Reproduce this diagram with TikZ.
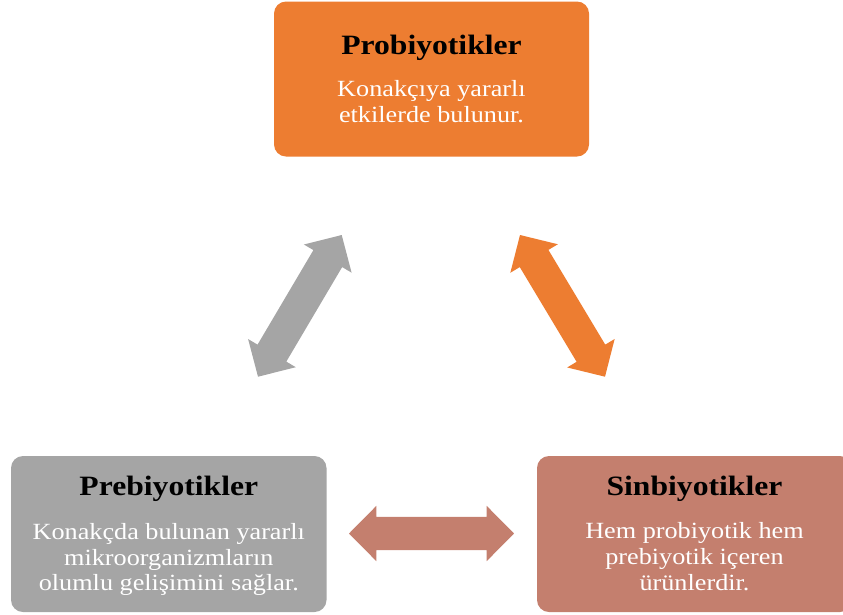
\documentclass[tikz,border=0pt]{standalone}
\usepackage{fontspec}
\setmainfont{Liberation Serif}[FakeStretch=1.13]
\usetikzlibrary{calc}
\definecolor{orng}{HTML}{ED7D31}
\definecolor{gry}{HTML}{A5A5A5}
\definecolor{salm}{HTML}{C47F6E}
\tikzset{
  box/.style={fill=#1, rounded corners=12pt, draw=none},
  ttl/.style={anchor=base, text=black, inner sep=0pt, font=\fontsize{28}{30}\selectfont\bfseries},
  bdy/.style={anchor=base, text=white, inner sep=0pt, font=\fontsize{23.2}{25.5}\selectfont},
}
\newcommand{\dblarr}[3]{%
  \coordinate (h1) at ($(#2)!27.4pt!(#3)$);
  \coordinate (h2) at ($(#3)!27.4pt!(#2)$);
  \fill[#1] (#2) -- ($(h1)!27.7pt!90:(#3)$) -- ($(h1)!16.7pt!90:(#3)$)
    -- ($(h2)!16.7pt!-90:(#2)$) -- ($(h2)!27.7pt!-90:(#2)$) -- (#3)
    -- ($(h2)!27.7pt!90:(#2)$) -- ($(h2)!16.7pt!90:(#2)$)
    -- ($(h1)!16.7pt!-90:(#3)$) -- ($(h1)!27.7pt!-90:(#3)$) -- cycle;}
\begin{document}
\begin{tikzpicture}[x=1pt,y=-1pt]
\useasboundingbox (0,0) rectangle (843,614);
% boxes
\path[box=orng] (274,1.5) rectangle (589,156.5);
\path[box=gry] (11,456) rectangle (326.5,612);
\path[box=salm] (537,456) rectangle (852,612);
% top box text
\node[ttl] (pt) at (431.5,54.5) {Probiyotikler};
\node[bdy] (pa) at (431.5,96.5) {Konakçıya yararlı};
\node[bdy] (pb) at (431.5,122.5) {etkilerde bulunur.};
% bottom-left text
\node[ttl] (rt) at (168.8,495) {Prebiyotikler};
\node[bdy] (ra) at (168.8,539.5) {Konakçda bulunan yararlı};
\node[bdy] (rb) at (168.8,565) {mikroorganizmların};
\node[bdy] (rc) at (168.8,590) {olumlu gelişimini sağlar.};
% bottom-right text
\node[ttl] (st) at (694.5,495) {Sinbiyotikler};
\node[bdy] (sa) at (694.5,538.5) {Hem probiyotik hem};
\node[bdy] (sb) at (694.5,564) {prebiyotik içeren};
\node[bdy] (sc) at (694.5,590) {ürünlerdir.};
% arrow end points
\coordinate (ga) at (258,376.7);
\coordinate (gb) at (341.7,235);
\coordinate (oa) at (605,376.7);
\coordinate (ob) at (520,235);
\coordinate (sa1) at (349,533.5);
\coordinate (sb1) at (514,533.5);
\dblarr{gry}{ga}{gb}
\dblarr{orng}{oa}{ob}
\dblarr{salm}{sa1}{sb1}
\end{tikzpicture}
\end{document}
